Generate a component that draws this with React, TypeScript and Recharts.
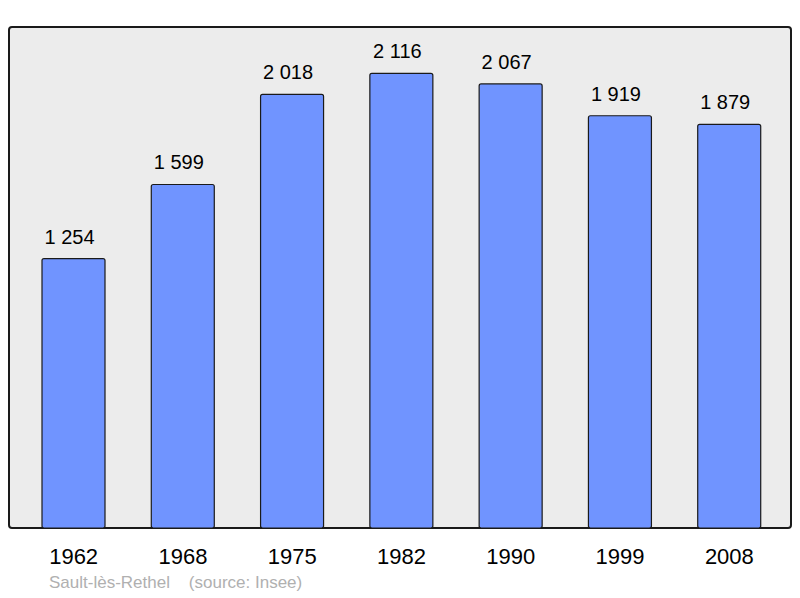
import { BarChart, Bar, XAxis, YAxis, LabelList } from "recharts";

const years = ["1962", "1968", "1975", "1982", "1990", "1999", "2008"];
const population = [1254, 1599, 2018, 2116, 2067, 1919, 1879];

const data = years.map((year, i) => ({ year, population: population[i] }));

const FONT = "'Liberation Sans', Arial, sans-serif";

// "1 254" style, space as thousands separator
const formatPop = (v: number) => {
  const s = String(v);
  return s.length > 3 ? `${s.slice(0, s.length - 3)} ${s.slice(-3)}` : s;
};

function YearTick(props: { x?: number; y?: number; payload?: { value: string } }) {
  const { x = 0, y = 0, payload } = props;
  return (
    <text x={x} y={y + 36} textAnchor="middle" fontSize={22} fontFamily={FONT} fill="#000">
      {payload?.value}
    </text>
  );
}

function ValueLabel(props: { x?: number; y?: number; width?: number; value?: number }) {
  const { x = 0, y = 0, width = 0, value = 0 } = props;
  return (
    <text x={Number(x) + Number(width) / 2 - 4} y={Number(y) - 15} textAnchor="middle" fontSize={20} fontFamily={FONT} fill="#000">
      {formatPop(Number(value))}
    </text>
  );
}

export default function App() {
  return (
    <div style={{ position: "absolute", left: 0, top: 0, width: 800, height: 598, background: "#fff" }}>
      {/* plot frame */}
      <div
        style={{
          position: "absolute",
          left: 8,
          top: 26,
          width: 780,
          height: 499,
          background: "#ececec",
          border: "2px solid #1a1a1a",
          borderRadius: 4,
        }}
      />
      <div style={{ position: "absolute", left: 0, top: 0 }}>
        <BarChart
          width={800}
          height={598}
          data={data}
          margin={{ top: 27, right: 9, bottom: 40, left: 9 }}
        >
          <XAxis
            dataKey="year"
            axisLine={false}
            tickLine={false}
            tickSize={0}
            tickMargin={0}
            height={30}
            padding={{ left: 10, right: 7 }}
            interval={0}
            tick={<YearTick />}
          />
          <YAxis hide domain={[0, 2332]} />
          <Bar
            dataKey="population"
            fill="#7094ff"
            stroke="#1a1a1a"
            strokeWidth={1.2}
            barSize={63}
            radius={2}
            isAnimationActive={false}
          >
            <LabelList dataKey="population" content={<ValueLabel />} />
          </Bar>
        </BarChart>
      </div>
      <div
        style={{
          position: "absolute",
          left: 49,
          top: 573,
          fontSize: 17,
          fontFamily: FONT,
          color: "#b0b0b0",
          whiteSpace: "pre",
        }}
      >
        {"Sault-lès-Rethel    (source: Insee)"}
      </div>
    </div>
  );
}
